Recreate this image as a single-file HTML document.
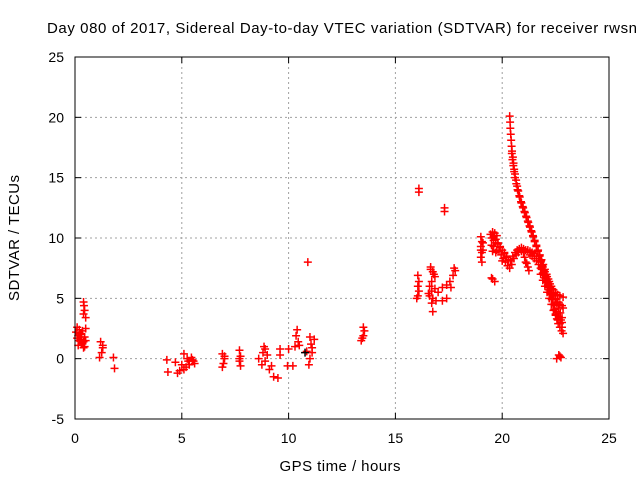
<!DOCTYPE html>
<html><head><meta charset="utf-8"><style>
body{margin:0;background:#fff}
svg text{font-family:"Liberation Sans",sans-serif;fill:#000}
</style></head><body>
<svg id="c" width="640" height="480" xmlns="http://www.w3.org/2000/svg">
<rect width="640" height="480" fill="#fff"/>
<text x="47" y="33" font-size="15" textLength="590" lengthAdjust="spacing">Day 080 of 2017, Sidereal Day-to-day VTEC variation (SDTVAR) for receiver rwsn</text>
<text x="340" y="471" font-size="15" textLength="121" text-anchor="middle">GPS time / hours</text>
<text transform="translate(19,238) rotate(-90)" font-size="15" textLength="126" text-anchor="middle">SDTVAR / TECUs</text>
<g id="grid"></g><g id="ticks"></g><g id="marks"></g>
<rect x="75" y="57" width="534" height="362" fill="none" stroke="#000" stroke-width="1"/>
</svg>
<script>
const xTicks=[0,5,10,15,20,25];
const yTicks=[-5,0,5,10,15,20,25];
const times=[0.4,0.42,0.45,0.4,0.5,0.1,0.2,0.25,0.3,0.2,0.35,0.15,0.4,0.3,0.1,0.5,0.45,0.3,0.05,0.15,0.25,0.35,0.45,0.5,0.4,
1.2,1.3,1.25,1.15,1.3,1.8,1.85,
4.3,4.35,4.7,4.8,4.9,5.1,5.0,5.1,5.3,5.45,5.6,5.5,5.2,5.35,5.55,5.25,
6.9,7.0,6.95,6.9,7.0,7.7,7.75,7.7,7.75,7.7,
8.6,8.85,8.8,8.9,8.75,9.0,9.2,9.3,9.5,9.6,9.6,9.1,8.9,
10.0,9.95,10.2,10.4,10.35,10.45,10.3,10.5,10.85,11.0,11.05,11.1,11.0,10.95,10.9,11.2,11.1,
13.4,13.5,13.55,13.5,13.45,
16.1,16.1,17.3,17.3,16.05,16.1,16.05,16.1,16.05,16.0,16.65,16.75,16.85,16.7,16.6,16.7,16.6,16.75,16.9,16.75,17.0,17.2,17.4,17.55,17.7,17.8,17.6,17.4,17.2,17.75,16.65,16.8,16.55,16.7,16.85,
19.0,19.05,19.0,19.05,19.0,19.05,19.1,19.55,19.65,19.5,19.1,19.0,
19.45,19.55,19.65,19.75,19.6,19.5,19.55,19.7,19.85,19.95,20.05,20.15,20.25,20.35,20.45,20.55,20.65,20.75,20.9,21.0,21.05,21.1,21.2,21.1,20.3,19.8,19.9,20.1,
19.5,19.6,19.7,19.8,19.9,20.0,20.1,20.2,20.3,20.4,20.5,20.6,20.7,20.8,20.9,21.0,19.6,19.7,19.75,20.2,20.0,21.15,21.25,
20.35,20.37,20.38,20.4,20.42,20.44,20.46,20.5,20.53,20.56,20.6,20.65,20.7,20.75,20.82,20.9,20.98,21.06,21.14,21.22,21.3,21.38,21.45,21.52,21.6,21.67,21.75,21.82,21.88,21.95,22.02,22.08,22.14,22.2,22.26,22.32,22.38,22.44,22.5,22.56,22.62,22.7,22.78,22.85,
20.45,20.48,20.52,20.56,20.6,20.66,20.72,20.8,20.88,20.96,21.04,21.12,21.2,21.28,21.36,21.44,21.52,21.6,21.68,21.76,21.84,21.92,22.0,22.08,22.16,22.24,22.32,22.4,22.48,22.56,22.64,22.72,22.8,
21.2,21.3,21.4,21.5,21.6,21.7,21.8,21.9,22.0,22.1,22.2,22.3,22.4,22.5,22.6,22.7,22.85,
21.3,21.4,21.5,21.6,21.7,21.8,21.9,22.0,22.1,22.2,22.3,22.4,22.5,22.6,22.7,22.8,22.85,
21.8,21.9,22.0,22.1,22.2,22.3,22.4,22.5,22.6,22.7,22.8,22.7,22.75,
21.85,21.95,22.05,22.15,22.25,22.35,22.45,22.55,22.65,22.75,22.8,22.65,22.55];
const values=[4.7,4.4,4.0,3.7,3.4,2.6,2.4,2.1,1.8,1.5,1.3,1.1,0.9,2.0,1.7,1.5,1.0,1.2,2.2,1.9,1.6,2.3,1.8,2.5,1.4,
1.4,1.1,0.5,0.1,0.9,0.1,-0.8,
-0.1,-1.1,-0.3,-1.2,-1.0,0.4,-0.5,-0.9,-0.2,0.1,-0.4,-0.1,-0.7,-0.5,-0.2,0.0,
0.4,0.0,-0.4,-0.7,0.2,0.7,0.2,-0.2,-0.6,0.0,
0.0,1.0,0.5,-0.2,-0.5,0.3,-0.6,-1.5,-1.6,0.3,0.8,-0.9,0.8,
0.8,-0.6,-0.6,2.4,1.9,1.4,1.0,1.1,0.6,1.8,1.2,0.5,0.0,-0.5,8.0,1.6,0.9,
1.5,1.9,2.3,2.6,1.7,
14.1,13.8,12.5,12.2,6.9,6.4,6.0,5.6,5.2,5.0,7.6,7.2,6.8,6.4,6.0,5.6,5.2,5.0,4.8,3.9,5.5,5.9,6.1,6.4,6.9,7.3,5.9,5.0,4.8,7.5,7.4,7.0,5.4,4.6,5.8,
10.1,9.7,9.3,8.8,8.4,8.0,9.0,6.6,6.4,6.7,9.6,9.0,
10.3,10.5,10.4,10.2,9.8,9.4,8.9,8.8,8.9,8.6,8.3,8.0,7.7,7.5,7.8,8.3,8.6,8.8,8.9,8.8,8.4,8.0,7.6,9.0,8.2,9.5,9.2,8.7,
10.0,10.1,9.9,9.6,9.3,9.0,8.8,8.5,8.2,8.1,8.5,8.8,9.0,9.1,9.2,9.1,9.3,9.6,9.0,8.4,8.1,7.9,7.3,
20.1,19.6,19.1,18.6,18.1,17.6,17.2,16.7,16.2,15.7,15.3,14.8,14.3,13.9,13.4,12.9,12.5,12.1,11.7,11.3,10.9,10.5,10.1,9.7,9.3,8.9,8.5,8.1,7.7,7.3,6.9,6.5,6.1,5.7,5.3,4.9,4.5,4.1,3.7,3.3,2.9,2.6,2.3,2.1,
17.0,16.5,16.0,15.5,15.0,14.5,14.0,13.5,13.0,12.6,12.2,11.8,11.4,11.0,10.6,10.2,9.8,9.4,9.0,8.6,8.2,7.8,7.4,7.0,6.6,6.2,5.8,5.4,5.0,4.6,4.2,3.8,3.4,
9.0,8.9,8.8,8.7,8.5,8.3,8.0,7.6,7.2,6.8,6.4,6.0,5.7,5.5,5.3,5.2,5.1,
8.6,8.5,8.3,8.1,7.8,7.5,7.1,6.7,6.3,5.9,5.5,5.2,4.9,4.7,4.5,4.4,4.2,
7.0,6.5,6.0,5.5,5.0,4.5,4.0,3.6,3.2,2.9,2.6,0.2,0.1,
7.4,6.9,6.4,5.9,5.4,4.9,4.4,3.9,3.5,3.2,3.0,0.3,0.0];
const blackTimes=[10.77];
const blackValues=[0.5];
const X=h=>75+h*534/25;
const Y=v=>419-(v+5)*362/30;
const NS="http://www.w3.org/2000/svg";
function mk(tag,at,parent){const e=document.createElementNS(NS,tag);for(const k in at)e.setAttribute(k,at[k]);parent.appendChild(e);return e;}
const grid=document.getElementById('grid'),ticks=document.getElementById('ticks'),marks=document.getElementById('marks');
xTicks.forEach(t=>{const x=X(t);
 if(t>0&&t<25){const g=mk('line',{x1:x,x2:x,y1:57,y2:419,stroke:'#a0a0a0','stroke-dasharray':'2,3'},grid);
 
 }
 mk('line',{x1:x,x2:x,y1:419,y2:413,stroke:'#000'},ticks);mk('line',{x1:x,x2:x,y1:57,y2:63,stroke:'#000'},ticks);
 const l=mk('text',{x:x,y:443,'font-size':14,'text-anchor':'middle'},ticks);l.textContent=t;
 
 });
yTicks.forEach(t=>{const y=Y(t);
 if(t>-5&&t<25){const g=mk('line',{x1:75,x2:609,y1:y,y2:y,stroke:'#a0a0a0','stroke-dasharray':'2,3'},grid);
 
 }
 mk('line',{x1:75,x2:81,y1:y,y2:y,stroke:'#000'},ticks);mk('line',{x1:603,x2:609,y1:y,y2:y,stroke:'#000'},ticks);
 const l=mk('text',{x:64,y:y+5,'font-size':14,'text-anchor':'end'},ticks);l.textContent=t;
 
 });
function plus(h,v,col){const x=X(h),y=Y(v);
 const p=mk('path',{d:`M${x-4},${y}H${x+4}M${x},${y-4}V${y+4}`,stroke:col,'stroke-width':1.5,fill:'none'},marks);
 
 }
times.forEach((h,i)=>plus(h,values[i],'#f00'));
blackTimes.forEach((h,i)=>plus(h,blackValues[i],'#000'));
</script>
</body></html>
